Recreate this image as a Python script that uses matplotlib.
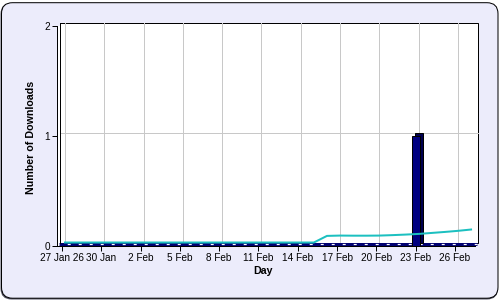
import matplotlib
matplotlib.use('Agg')
import matplotlib.pyplot as plt
from matplotlib.patches import FancyBboxPatch, Rectangle
from matplotlib.transforms import offset_copy

plt.rcParams['font.family'] = ['Liberation Sans', 'DejaVu Sans']
plt.rcParams['lines.scale_dashes'] = False

# day index 0 = 27 Jan
days = list(range(32))
downloads = [0] * 27 + [1] + [0] * 4
trend = [0] * 20 + [0.06, 0.063, 0.062, 0.062, 0.063, 0.067, 0.072,
                    0.078, 0.087, 0.096, 0.106, 0.118]
tick_days = [0, 3, 6, 9, 12, 15, 18, 21, 24, 27, 30]
tick_labels = ['27 Jan 26', '30 Jan', '2 Feb', '5 Feb', '8 Feb', '11 Feb',
               '14 Feb', '17 Feb', '20 Feb', '23 Feb', '26 Feb']
y_ticks = [0, 1, 2]

W, H = 500, 300
PX = 72 / 100  # one pixel in points
X0, X1 = -0.38, 31.53

fig = plt.figure(figsize=(5, 3), dpi=100)
fig.patch.set_facecolor('white')

# rounded panel with a small shadow
shadow = FancyBboxPatch((0.005, 0.005), 4.975, 2.965,
                        boxstyle='round,pad=0,rounding_size=0.11',
                        transform=fig.dpi_scale_trans, fc='#555566', ec='none', zorder=-2)
panel = FancyBboxPatch((0.015, 0.018), 4.965, 2.955,
                       boxstyle='round,pad=0,rounding_size=0.11',
                       transform=fig.dpi_scale_trans, fc='#ECECFB', ec='black',
                       lw=PX, zorder=-1)
fig.patches.extend([shadow, panel])

ax = fig.add_axes([57 / W, 54.5 / H, 418 / W, 220 / H])
ax.set_xlim(X0, X1)
ax.set_ylim(0, 2)
ax.set_facecolor('white')

# back plane sits 3px right and 3px up (3D depth)
back = offset_copy(ax.transData, fig=fig, x=3, y=3, units='dots')
back_axes = offset_copy(ax.transAxes, fig=fig, x=3, y=3, units='dots')

# back wall
ax.add_patch(Rectangle((0, 0), 1, 1, transform=back_axes, fc='white', ec='black',
                       lw=PX, clip_on=False, zorder=0))

# grid on the back wall
for d in tick_days:
    ax.plot([d, d], [0, 2], transform=back, color='#C8C8C8', lw=PX, zorder=1, clip_on=False)
ax.plot([X0, X1], [1, 1], transform=back, color='#C8C8C8', lw=PX, zorder=1, clip_on=False)

# floor strip
floor = offset_copy(ax.transData, fig=fig, x=1.5, y=1.5, units='dots')
ax.plot([X0, X1], [0, 0], transform=floor, color='#000070', lw=3 * PX,
        solid_capstyle='butt', zorder=2, clip_on=False)
ax.plot([X0, X1], [0, 0], transform=floor, color='white', lw=1.2 * PX,
        ls=(2, (3 * PX, 8 * PX)), zorder=2.1, clip_on=False)

# bars: back face then front face
bar_days = [d for d, v in zip(days, downloads) if v > 0]
bar_vals = [v for v in downloads if v > 0]
ax.bar(bar_days, bar_vals, width=0.6, transform=back, color='#000050',
       edgecolor='black', lw=PX, zorder=3, clip_on=False)
ax.bar(bar_days, bar_vals, width=0.6, color='#000080', edgecolor='black',
       lw=PX, zorder=4)

# trend line
ax.plot(days, trend, transform=back, color='#1CC0C0', lw=2 * PX, zorder=5, clip_on=False)

# left wall second line and front spines
ax.plot([X0, X0], [0, 2], transform=back, color='black', lw=PX, zorder=6, clip_on=False)
for s in ['top', 'right']:
    ax.spines[s].set_visible(False)
for s in ['left', 'bottom']:
    ax.spines[s].set_linewidth(PX)
    ax.spines[s].set_zorder(7)

ax.set_xticks(tick_days, tick_labels)
ax.set_yticks(y_ticks, [str(v) for v in y_ticks])
ax.tick_params(axis='both', length=5 * PX, width=PX, labelsize=7.2, pad=1.5)
ax.set_ylabel('Number of Downloads', fontweight='bold', fontsize=7.7)
ax.set_xlabel('Day', fontweight='bold', fontsize=7.7, va='top')
ax.yaxis.set_label_coords((36 - 57) / 418, 0.49)
ax.xaxis.set_label_coords((263 - 57) / 418, (34 - 54.5) / 220)

fig.savefig('out.png', dpi=100)
